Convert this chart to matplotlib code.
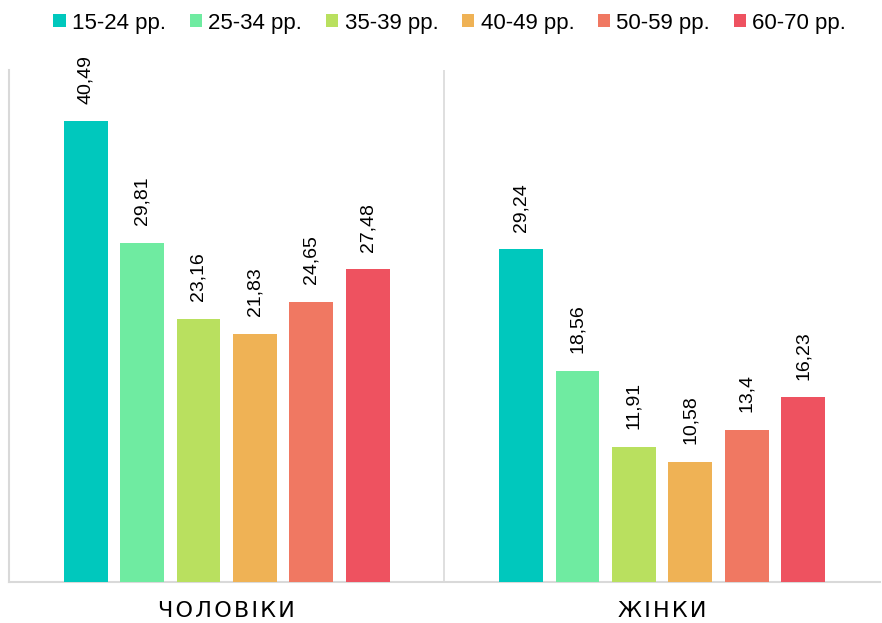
import numpy as np
import matplotlib.pyplot as plt
from matplotlib.patches import Patch

plt.rcParams['font.family'] = ['Liberation Sans', 'DejaVu Sans']

categories = ['ЧОЛОВІКИ', 'ЖІНКИ']
groups = ['15-24 pp.', '25-34 pp.', '35-39 pp.', '40-49 pp.', '50-59 pp.', '60-70 pp.']
values = [
    [40.49, 29.24],
    [29.81, 18.56],
    [23.16, 11.91],
    [21.83, 10.58],
    [24.65, 13.4],
    [27.48, 16.23],
]
labels = [
    ['40,49', '29,24'],
    ['29,81', '18,56'],
    ['23,16', '11,91'],
    ['21,83', '10,58'],
    ['24,65', '13,4'],
    ['27,48', '16,23'],
]
colors = ['#00C8BD', '#6FEBA1', '#B9E05F', '#EFB255', '#F07862', '#EE5260']

fig = plt.figure(figsize=(8.82, 6.23), dpi=100)
ax = fig.add_axes([0.0102, 0.0658, 0.9875, 0.8218])

x = np.arange(len(categories))
step = 0.1297
width = 0.101
for i, (vals, lab, c) in enumerate(zip(values, labels, colors)):
    pos = x + (i - 2.5) * step
    ax.bar(pos, vals, width=width, color=c, zorder=3)
    for p, v, t in zip(pos, vals, lab):
        ax.text(p, v + 1.55, t, rotation=90, ha='center', va='bottom', fontsize=14)

ax.set_xlim(-0.5, 1.5)
ax.set_ylim(0, 45)
ax.set_yticks([])
ax.set_xticks(x)
# letter-spaced category names
ax.set_xticklabels(['\u200a'.join(c) for c in categories],
                   fontsize=16, family='DejaVu Sans')
ax.tick_params(axis='x', length=0, pad=14)
ax.axvline(0.5, color='#d9d9d9', lw=1.2)
for s in ['top', 'right']:
    ax.spines[s].set_visible(False)
for s in ['left', 'bottom']:
    ax.spines[s].set_color('#d9d9d9')
    ax.spines[s].set_linewidth(1.5)

handles = [Patch(facecolor=c, label=g) for g, c in zip(groups, colors)]
fig.legend(handles=handles, loc='upper center', bbox_to_anchor=(0.51, 1.012), ncol=6,
           frameon=False, fontsize=16, handlelength=0.55, handleheight=0.55,
           handletextpad=0.3, columnspacing=1.05)

plt.savefig('out.png', dpi=100)
